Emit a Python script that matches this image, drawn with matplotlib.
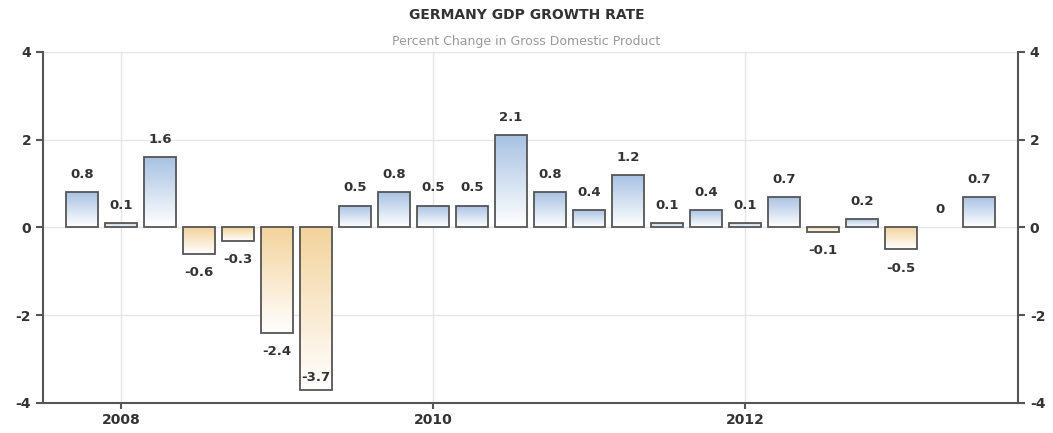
import numpy as np
import matplotlib.pyplot as plt
from matplotlib.colors import LinearSegmentedColormap

# quarterly GDP growth, Q4 2007 .. Q3 2013
values = [0.8, 0.1, 1.6, -0.6, -0.3, -2.4, -3.7, 0.5, 0.8, 0.5, 0.5, 2.1,
          0.8, 0.4, 1.2, 0.1, 0.4, 0.1, 0.7, -0.1, 0.2, -0.5, 0, 0.7]
labels = ['0.8', '0.1', '1.6', '-0.6', '-0.3', '-2.4', '-3.7', '0.5', '0.8', '0.5', '0.5', '2.1',
          '0.8', '0.4', '1.2', '0.1', '0.4', '0.1', '0.7', '-0.1', '0.2', '-0.5', '0', '0.7']
year_pos = [1, 9, 17]
year_labels = ['2008', '2010', '2012']

fig = plt.figure(figsize=(10.53, 4.33), dpi=100)
ax = fig.add_axes([0.0408, 0.0693, 0.926, 0.8107])

x = np.arange(len(values))
ax.set_xlim(-1, 24)
ax.set_ylim(-4, 4)

blue = LinearSegmentedColormap.from_list('b', ['#ffffff', '#a7c1e2'])
orange = LinearSegmentedColormap.from_list('o', ['#ffffff', '#f3d39d'])
grad = np.linspace(0, 1, 100).reshape(-1, 1)

bars = ax.bar(x, values, width=0.82, facecolor='none', edgecolor='#555555', linewidth=1.3, zorder=3)
for b, v in zip(bars, values):
    if v == 0:
        b.set_linewidth(0)
        continue
    x0 = b.get_x()
    w = b.get_width()
    lo, hi = min(0, v), max(0, v)
    cmap = blue if v > 0 else orange
    im = ax.imshow(grad, cmap=cmap, origin='lower', aspect='auto',
                   extent=[x0, x0 + w, lo, hi], zorder=2)
    im.set_clip_path(b)

for xi, v, lab in zip(x, values, labels):
    if v >= 0:
        ax.annotate(lab, (xi, v), xytext=(0, 8), textcoords='offset points',
                    ha='center', va='bottom', fontsize=9.5, color='#333333', fontweight='bold')
    elif v < -3.5:
        ax.annotate(lab, (xi, v), xytext=(0, 4), textcoords='offset points',
                    ha='center', va='bottom', fontsize=9.5, color='#333333', fontweight='bold')
    else:
        ax.annotate(lab, (xi, v), xytext=(0, -9), textcoords='offset points',
                    ha='center', va='top', fontsize=9.5, color='#333333', fontweight='bold')

ax.set_yticks([-4, -2, 0, 2, 4])
ax.set_yticklabels(['-4', '-2', '0', '2', '4'])
ax.set_xticks(year_pos)
ax.set_xticklabels(year_labels)
ax.grid(True, color='#e6e6e6', linewidth=1, zorder=0)
ax.set_axisbelow(True)

ax.spines['top'].set_visible(False)
for s in ['left', 'right', 'bottom']:
    ax.spines[s].set_color('#555555')
    ax.spines[s].set_linewidth(1.5)

ax.tick_params(axis='y', which='both', left=True, right=True, labelleft=True, labelright=True,
               length=5, width=1.5, color='#555555', labelsize=10, labelcolor='#333333')
ax.tick_params(axis='x', length=4, width=1.5, color='#555555', labelsize=10, labelcolor='#333333')
for t in ax.get_xticklabels() + ax.get_yticklabels():
    t.set_fontweight('bold')
for t in ax.yaxis.get_ticklabels(which='both'):
    t.set_fontweight('bold')

fig.text(0.5, 0.965, 'GERMANY GDP GROWTH RATE', ha='center', va='center',
         fontsize=10, fontweight='bold', color='#333333')
fig.text(0.5, 0.905, 'Percent Change in Gross Domestic Product', ha='center', va='center',
         fontsize=9, color='#999999')

fig.savefig('out.png', dpi=100, facecolor='white')
